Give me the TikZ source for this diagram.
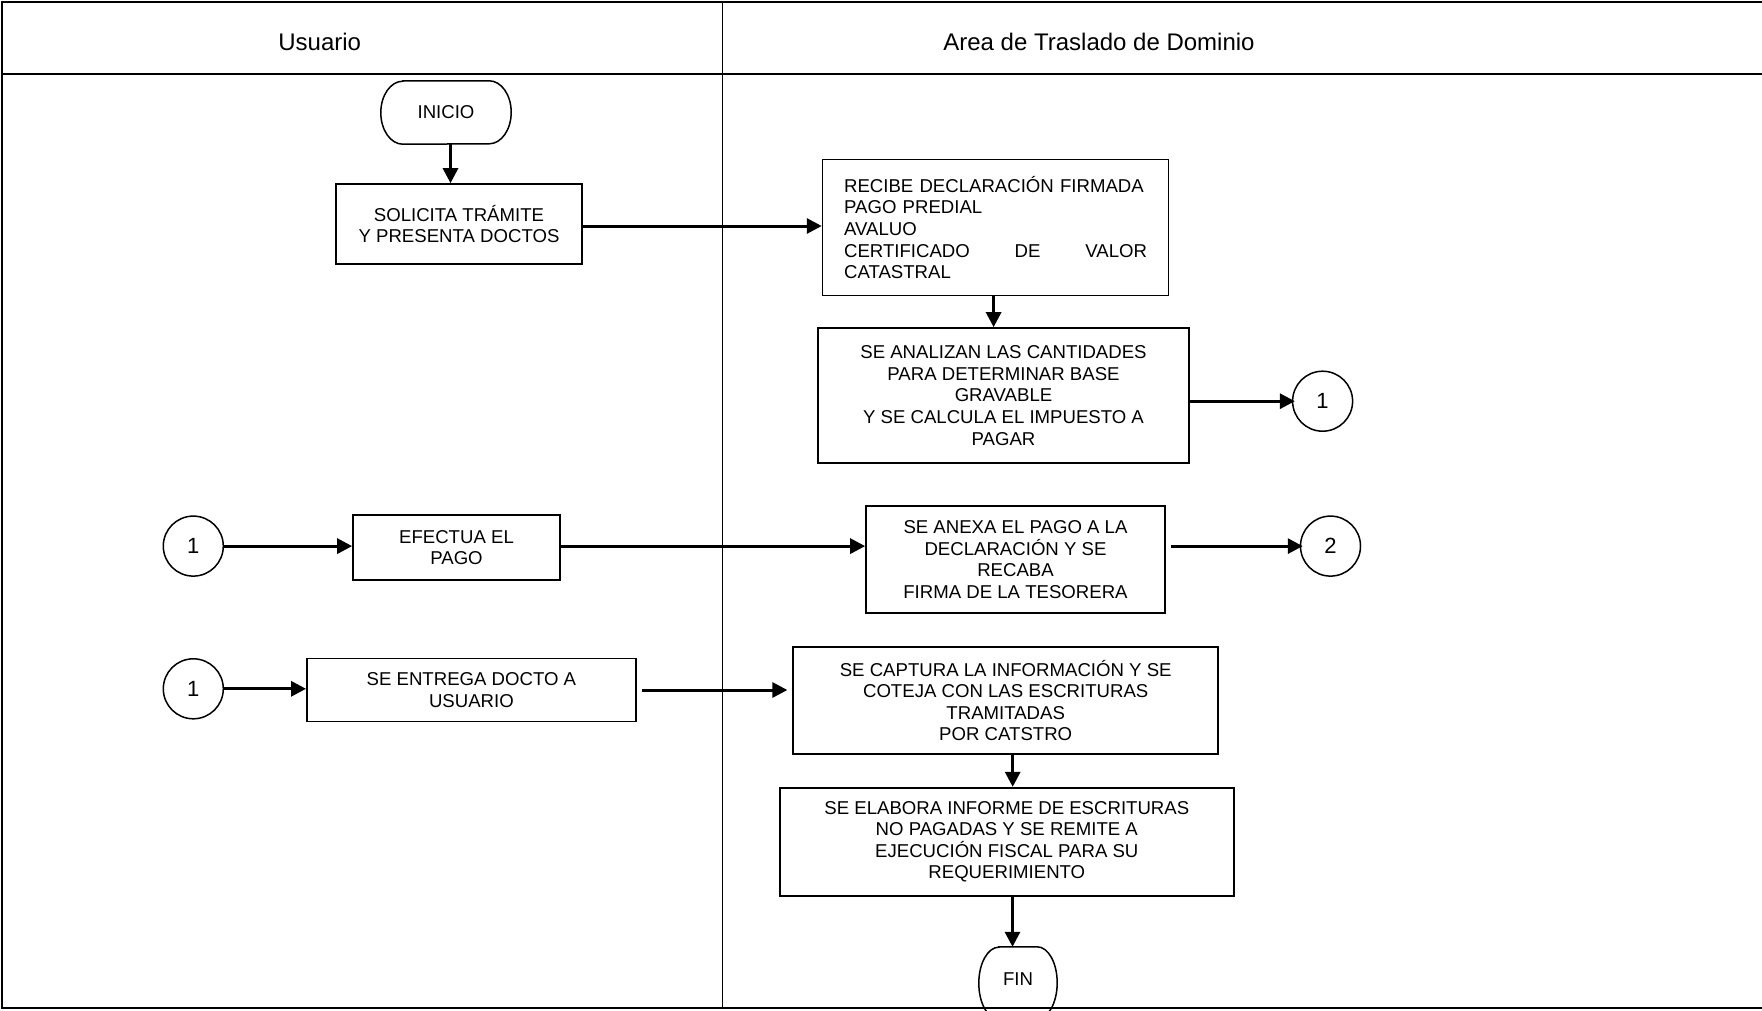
\documentclass[tikz,border=0pt]{standalone}
\usepackage{fontspec}
\setmainfont{Liberation Sans}
\usetikzlibrary{arrows.meta}
\begin{document}
\begin{tikzpicture}[x=1pt,y=-1pt,
  box/.style={draw, line width=1.7pt, inner sep=0pt, align=center, font=\fontsize{18.6}{21.6}\selectfont},
  term/.style={inner sep=0pt, font=\fontsize{18.6}{21.6}\selectfont},
  termline/.style={line width=1.5pt},
  conn/.style={draw, circle, line width=1.5pt, minimum size=60pt, inner sep=0pt, font=\fontsize{22}{26}\selectfont},
  flow/.style={line width=3pt, -{Triangle[length=15pt,width=15pt]}},
  lane/.style={line width=2.4pt},
  hdr/.style={font=\fontsize{24}{28}\selectfont}]
\useasboundingbox (0,0) rectangle (1762,1010);
% lanes
\draw[lane] (1762,2) -- (2,2) -- (2,1008) -- (1762,1008);
\draw[lane] (2,74) -- (1762,74);
\draw[line width=1.6pt] (722.5,2) -- (722.5,1008);
\node[hdr] (h1) at (319.7,41.6) {Usuario};
\node[hdr] (h2) at (1099,41.6) {Area de Traslado de Dominio};
% terminals
\node[term, minimum width=130pt, minimum height=63pt] (ini) at (446,112.5) {INICIO};
\draw[termline] ([xshift=22pt]ini.north west) -- ([xshift=-22pt]ini.north east)
  arc[start angle=90, end angle=-90, x radius=22pt, y radius=31.5pt]
  -- ([xshift=22pt]ini.south west)
  arc[start angle=270, end angle=90, x radius=22pt, y radius=31.5pt] -- cycle;
\node[term, minimum width=78pt, minimum height=72pt] (fin) at (1018,983) {};
\node[term] (fintxt) at (1018,979) {FIN};
\draw[termline] ([xshift=20pt]fin.north west) -- ([xshift=-20pt]fin.north east)
  arc[start angle=90, end angle=-90, x radius=20pt, y radius=36pt]
  -- ([xshift=20pt]fin.south west)
  arc[start angle=270, end angle=90, x radius=20pt, y radius=36pt] -- cycle;
% process boxes
\node[box, minimum width=246pt, minimum height=80pt] (sol) at (459,224) {SOLICITA TRÁMITE\\Y PRESENTA DOCTOS};
\node[box, minimum width=346pt, minimum height=136pt, text width=303pt, align=left] (rec) at (995.6,227.5)
  {RECIBE DECLARACIÓN FIRMADA\\PAGO PREDIAL\\AVALUO\\CERTIFICADO\hfill DE\hfill VALOR\\CATASTRAL};
\node[box, minimum width=371pt, minimum height=135pt] (ana) at (1003.5,395.5)
  {SE ANALIZAN LAS CANTIDADES\\PARA DETERMINAR BASE\\GRAVABLE\\Y SE CALCULA EL IMPUESTO A\\PAGAR};
\node[conn] (c1a) at (1322.6,401.2) {1};
\node[conn] (c1b) at (193.3,546.1) {1};
\node[box, minimum width=207pt, minimum height=65pt] (efe) at (456.5,547.5) {EFECTUA EL\\PAGO};
\node[box, minimum width=299pt, minimum height=107pt] (anx) at (1015.5,559.6)
  {SE ANEXA EL PAGO A LA\\DECLARACIÓN Y SE\\RECABA\\FIRMA DE LA TESORERA};
\node[conn] (c2) at (1330.5,546.1) {2};
\node[conn] (c1c) at (193.3,688.8) {1};
\node[box, minimum width=329pt, minimum height=63pt] (ent) at (471.4,690) {SE ENTREGA DOCTO A\\USUARIO};
\node[box, minimum width=425pt, minimum height=107pt] (cap) at (1005.7,700.6)
  {SE CAPTURA LA INFORMACIÓN Y SE\\COTEJA CON LAS ESCRITURAS\\TRAMITADAS\\POR CATSTRO};
\node[box, minimum width=454pt, minimum height=108pt] (ela) at (1006.8,841.7)
  {SE ELABORA INFORME DE ESCRITURAS\\NO PAGADAS Y SE REMITE A\\EJECUCIÓN FISCAL PARA SU\\REQUERIMIENTO};
% connectors
\draw[flow] ([xshift=4.5pt]ini.south) -- ([xshift=4.5pt]ini.south |- sol.north);
\draw[flow] ([yshift=-2pt]sol.east) -- ([yshift=-2pt]sol.east -| rec.west);
\draw[flow] ([xshift=-2pt]rec.south) -- ([xshift=-2pt]rec.south |- ana.north);
\draw[flow] (ana.east |- c1a) -- ([xshift=3pt]c1a.west);
\draw[flow] (c1b.east) -- (c1b.east -| efe.west);
\draw[flow] (efe.east |- c1b) -- (efe.east |- c1b -| anx.west);
\draw[flow] ([xshift=5pt]anx.east |- c2) -- ([xshift=3pt]c2.west);
\draw[flow] (c1c.east) -- (c1c.east -| ent.west);
\draw[flow] ([xshift=5pt]ent.east) -- ([xshift=-5pt]ent.east -| cap.west);
\draw[flow] ([xshift=7pt]cap.south) -- ([xshift=7pt]cap.south |- ela.north);
\draw[flow] ([xshift=-5.5pt]fin.north |- ela.south) -- ([xshift=-5.5pt]fin.north);
\end{tikzpicture}
\end{document}
